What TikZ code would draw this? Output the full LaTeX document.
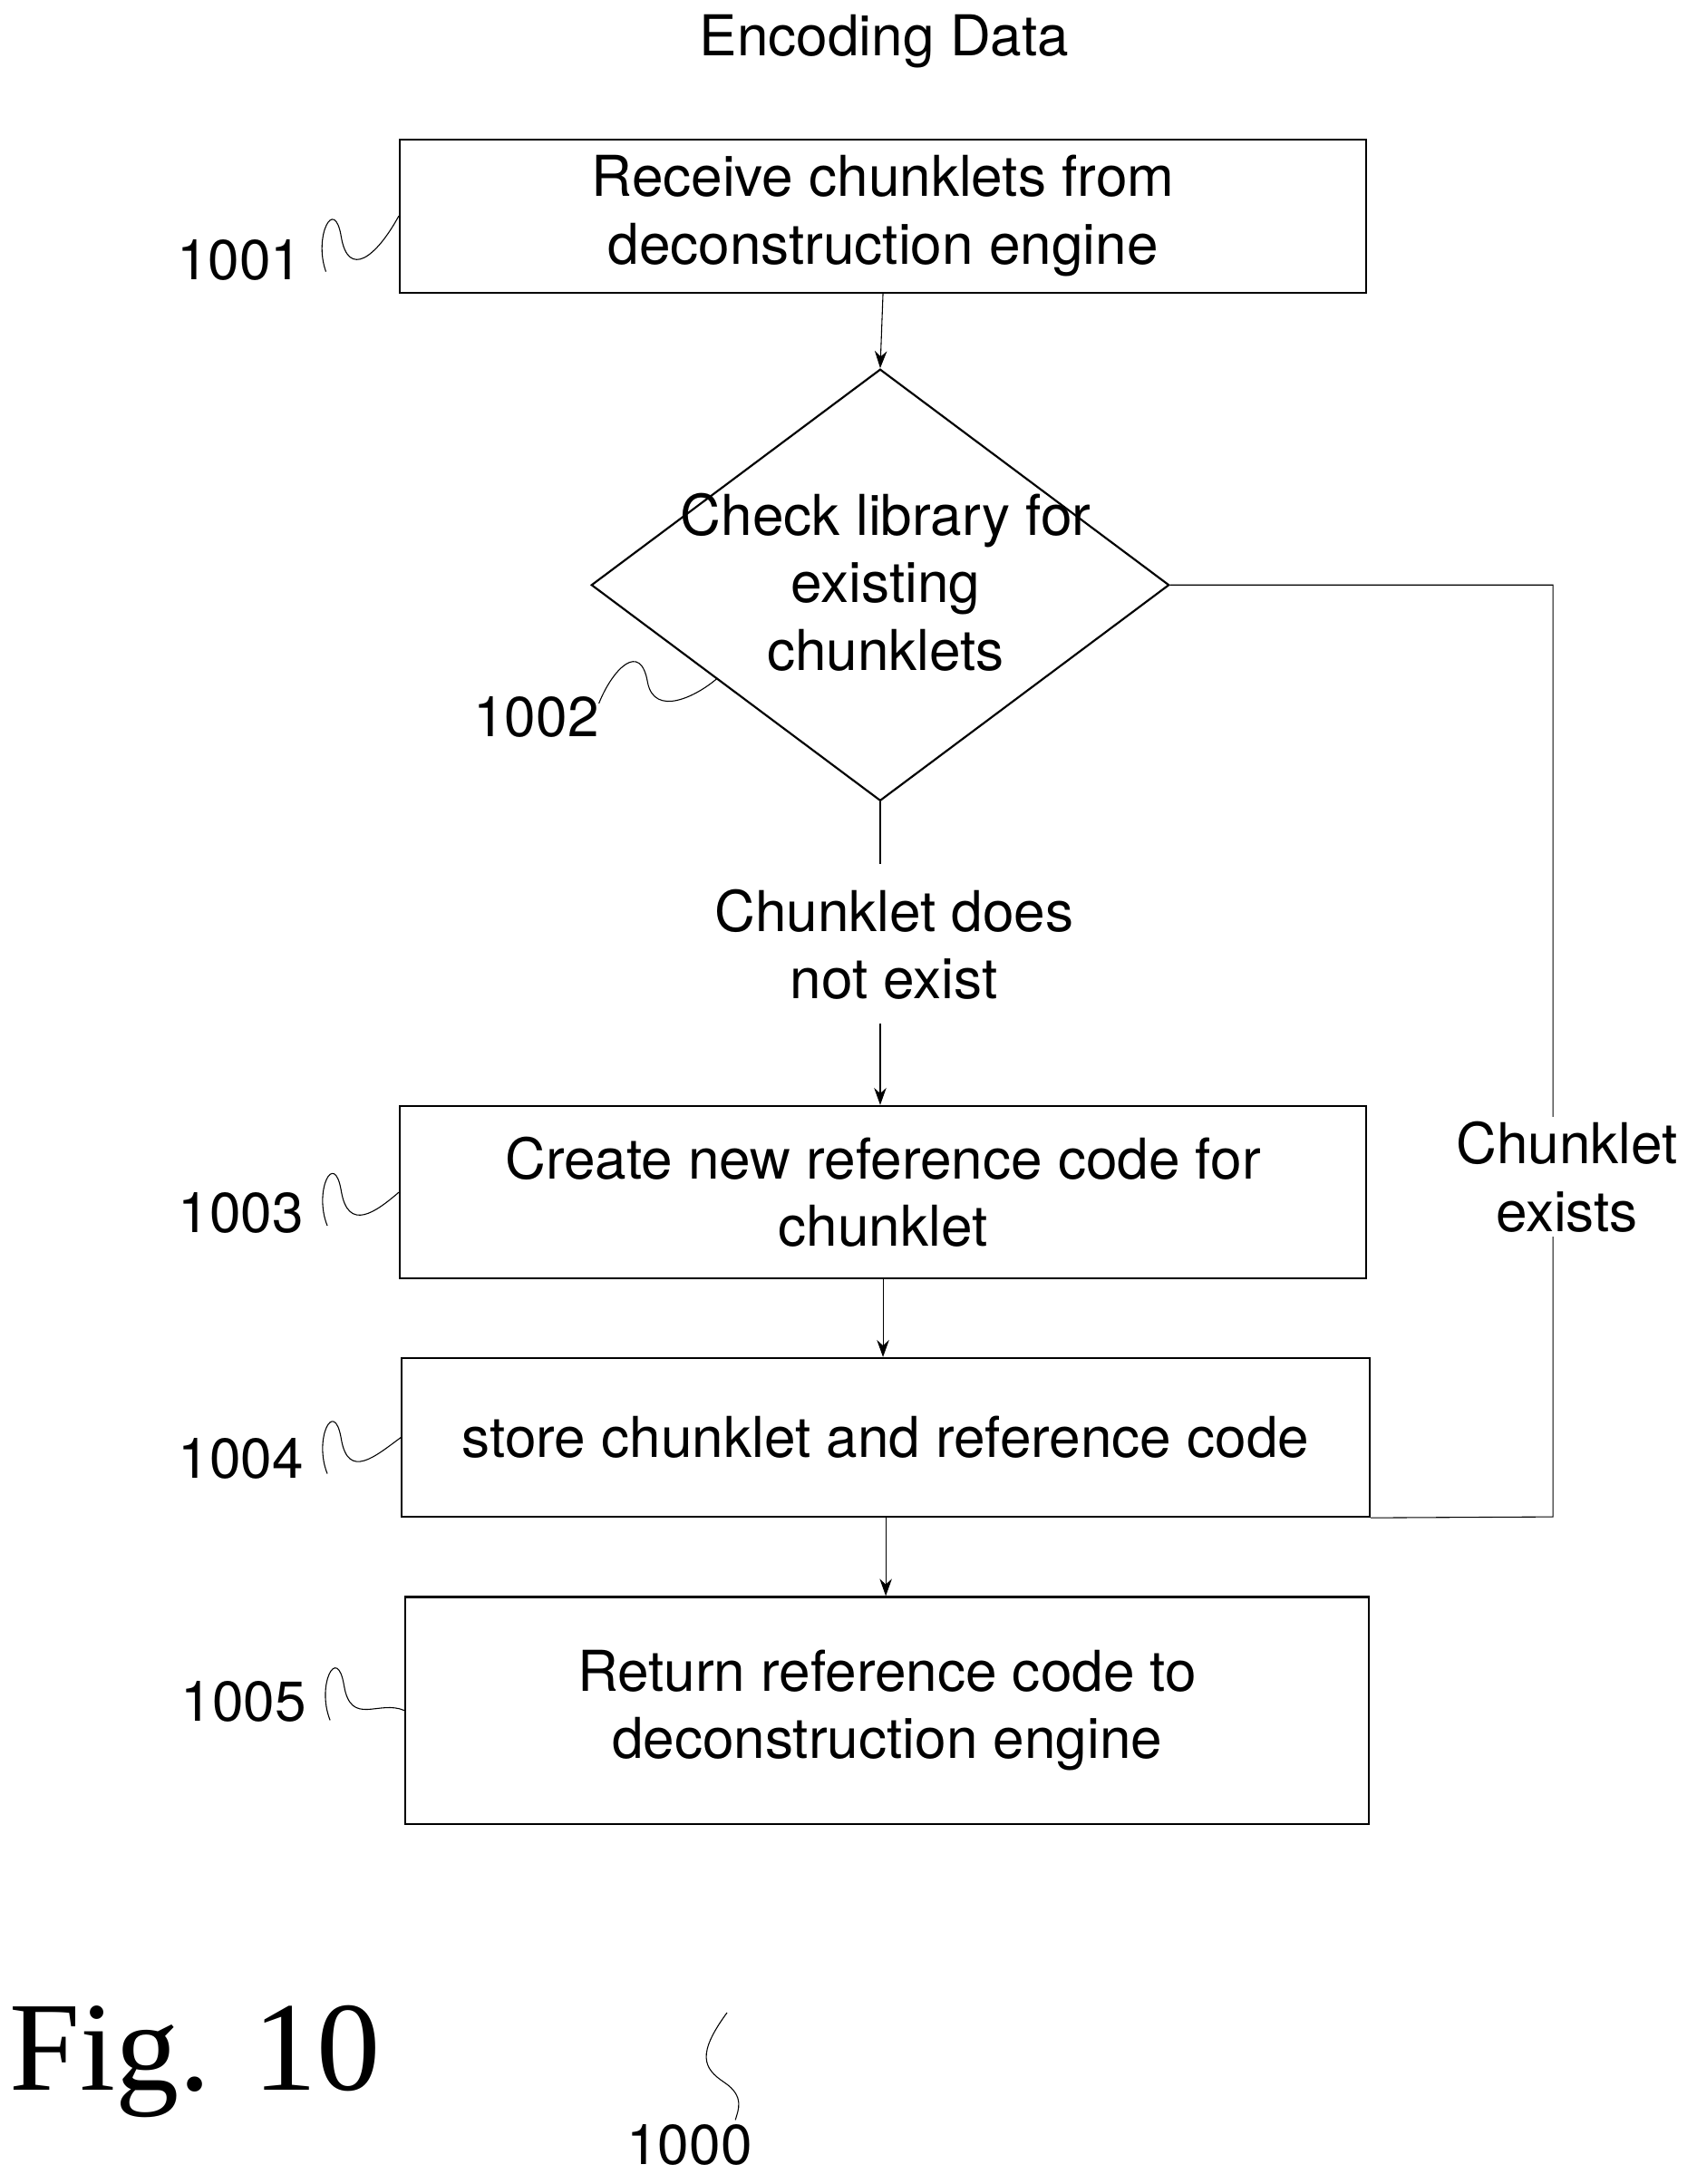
\documentclass[tikz,border=0pt]{standalone}
\usepackage{fontspec}
\setmainfont{TeX Gyre Heros}
\newfontfamily\figfont{Liberation Serif}
\usetikzlibrary{shapes.geometric,arrows.meta}
\tikzset{
  procbox/.style={draw, thick, minimum width=13.88cm, align=center, font=\fontsize{23}{27.5}\selectfont},
  lbl/.style={font=\fontsize{23}{27.5}\selectfont, align=center},
  flow/.style={-{Stealth[length=7pt,width=5pt]}, thin},
  sq/.style={thin}
}
\begin{document}
\begin{tikzpicture}[x=0.02cm,y=-0.02cm]
\useasboundingbox (0,0) rectangle (1218,1568);
\node[lbl] (title) at (635,30) {Encoding Data};
\node[procbox, minimum height=2.2cm] (recv) at (634,155) {Receive chunklets from\\deconstruction engine};
\node[draw, thick, diamond, minimum width=8.3cm, minimum height=6.2cm, inner sep=0pt] (check) at (632,420) {};
\node[lbl] (checkt) at (636,418) {Check library for\\existing\\chunklets};
\node[lbl] (noexist) at (642,678) {Chunklet does\\not exist};
\node[procbox, minimum height=2.48cm] (create) at (634,856) {Create new reference code for\\chunklet};
\node[procbox, minimum height=2.28cm, minimum width=13.9cm] (store) at (636,1032) {store chunklet and reference code};
\node[procbox, minimum height=3.26cm, minimum width=13.84cm] (ret) at (637,1228) {Return reference code to\\deconstruction engine};
% connectors
\draw[flow] (recv.south) -- (check.north);
\coordinate (c1) at (632,620);
\coordinate (c2) at (632,735);
\draw (check.south) -- (c1);
\draw[flow] (c2) -- (create.north -| c2);
\draw[flow] (create.south) -- (store.north -| create.south);
\draw[flow] (store.south) -- (ret.north -| store.south);
\coordinate (r1) at (1115,420);
\coordinate (r2) at (1115,1089);
\draw (check.east) -- (r1) -- (r2) -- (store.south east);
\node[lbl, fill=white, inner sep=2pt] (exists) at (1125,845) {Chunklet\\exists};
% reference numerals
\node[lbl] (n1001) at (172,187) {1001};
\draw[sq] (234,195) .. controls (225,170) and (240,140) .. (245,170) .. controls (250,200) and (270,185) .. (recv.west);
\node[lbl] (n1002) at (385,515) {1002};
\draw[sq] (430,505) .. controls (440,480) and (460,460) .. (465,490) .. controls (470,515) and (500,500) .. (515,487);
\node[lbl] (n1003) at (173,871) {1003};
\draw[sq] (235,880) .. controls (225,855) and (240,825) .. (245,855) .. controls (250,885) and (270,870) .. (create.west);
\node[lbl] (n1004) at (173,1047) {1004};
\draw[sq] (235,1058) .. controls (225,1033) and (240,1003) .. (245,1033) .. controls (250,1063) and (270,1045) .. (store.west);
\node[lbl] (n1005) at (175,1222) {1005};
\draw[sq] (237,1235) .. controls (227,1210) and (242,1180) .. (247,1210) .. controls (252,1240) and (272,1220) .. (ret.west);
\node[font=\figfont\fontsize{52}{56}\selectfont] (fig) at (140,1480) {Fig. 10};
\node[lbl] (n1000) at (495,1540) {1000};
\draw[sq] (522,1445) .. controls (500,1475) and (505,1485) .. (520,1495) .. controls (535,1505) and (530,1515) .. (528,1522);
\end{tikzpicture}
\end{document}
